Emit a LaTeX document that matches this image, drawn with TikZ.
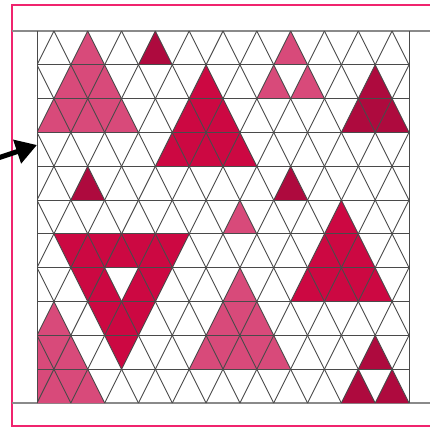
\documentclass[tikz,border=0pt]{standalone}
\usetikzlibrary{arrows.meta}
\definecolor{framepink}{HTML}{F0246E}
\definecolor{lightrose}{HTML}{D84A7A}
\definecolor{midcrimson}{HTML}{CC0842}
\definecolor{darkcrimson}{HTML}{AE0A3E}
\definecolor{gridgray}{HTML}{4A4A4A}
\definecolor{rulegray}{HTML}{8A8A8A}
\tikzset{
  frameline/.style={draw=framepink, line width=1.4pt},
  ruleline/.style={draw=rulegray, line width=1.4pt},
  gridline/.style={draw=gridgray, line width=0.9pt},
  lightpiece/.style={fill=lightrose, even odd rule},
  midpiece/.style={fill=midcrimson, even odd rule},
  darkpiece/.style={fill=darkcrimson, even odd rule},
  pointer/.style={draw=black, line width=5pt, -{Triangle[length=21pt,width=24pt]}}
}
\begin{document}
\begin{tikzpicture}[x=1pt,y=1pt]
\useasboundingbox (0,0) rectangle (430,428);
\fill[white] (0,0) rectangle (430,428);
% frame
\draw[frameline] (431,423) -- (12,423) -- (12,2) -- (431,2);
\draw[ruleline] (12,397) -- (430,397);
\draw[ruleline] (12,25) -- (430,25);
\begin{scope}[shift={(37,25)}, x=33.818pt, y=33.818pt]
  % filled pieces
  \fill[lightpiece] (1.5,11) -- (0,8) -- (3,8) -- cycle;
  \fill[darkpiece] (3.5,11) -- (3,10) -- (4,10) -- cycle;
  \fill[midpiece] (5,10) -- (3.5,7) -- (6.5,7) -- cycle;
  \fill[lightpiece] (7.5,11) -- (6.5,9) -- (8.5,9) -- cycle (7,10) -- (8,10) -- (7.5,9) -- cycle;
  \fill[darkpiece] (10,10) -- (9,8) -- (11,8) -- cycle;
  \fill[darkpiece] (1.5,7) -- (1,6) -- (2,6) -- cycle;
  \fill[darkpiece] (7.5,7) -- (7,6) -- (8,6) -- cycle;
  \fill[lightpiece] (6,6) -- (5.5,5) -- (6.5,5) -- cycle;
  \fill[midpiece] (9,6) -- (7.5,3) -- (10.5,3) -- cycle;
  \fill[midpiece] (0.5,5) -- (4.5,5) -- (2.5,1) -- cycle (2,4) -- (3,4) -- (2.5,3) -- cycle;
  \fill[lightpiece] (0.5,3) -- (2,0) -- (0,0) -- (0,2) -- cycle;
  \fill[lightpiece] (6,4) -- (4.5,1) -- (7.5,1) -- cycle;
  \fill[darkpiece] (10,2) -- (9,0) -- (11,0) -- cycle (9.5,1) -- (10.5,1) -- (10,0) -- cycle;
  % grid
  \begin{scope}
    \clip (0,0) rectangle (11,11);
    \foreach \c in {-6,...,11} {\draw[gridline] (\c,0) -- (\c+5.5,11);}
    \foreach \c in {0,...,17} {\draw[gridline] (\c,0) -- (\c-5.5,11);}
    \foreach \r in {1,...,10} {\draw[gridline] (0,\r) -- (11,\r);}
  \end{scope}
  \draw[gridline] (0,0) -- (0,11);
  \draw[gridline] (11,0) -- (11,11);
\end{scope}
% pointer arrow
\coordinate (arrowtail) at (-2,270);
\coordinate (arrowtip) at (37,283);
\draw[pointer] (arrowtail) -- (arrowtip);
\end{tikzpicture}
\end{document}
